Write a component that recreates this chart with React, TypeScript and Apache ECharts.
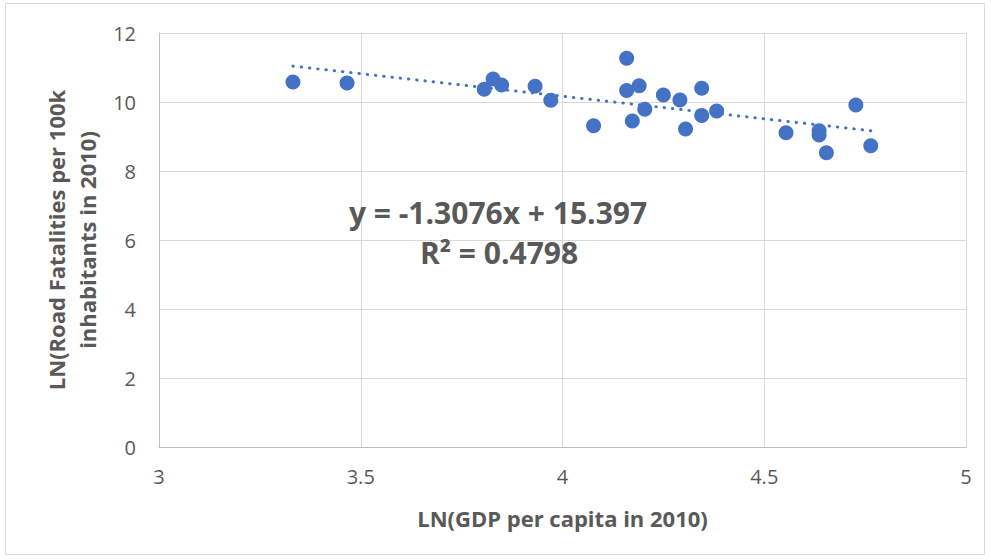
import React, { useEffect, useRef } from "react";
import * as echarts from "echarts";

// LN(GDP per capita in 2010) for each country
const gdpLn: number[] = [
  3.332, 3.466, 3.806, 3.828, 3.849, 3.932, 3.971, 4.077, 4.159, 4.159,
  4.19, 4.173, 4.204, 4.25, 4.291, 4.345, 4.345, 4.305, 4.382, 4.554,
  4.636, 4.636, 4.654, 4.727, 4.764,
];
// LN(Road fatalities per 100k inhabitants in 2010)
const fatalitiesLn: number[] = [
  10.58, 10.55, 10.37, 10.67, 10.49, 10.46, 10.05, 9.31, 11.27, 10.33,
  10.47, 9.45, 9.79, 10.2, 10.06, 10.4, 9.61, 9.22, 9.74, 9.11,
  9.17, 9.04, 8.53, 9.91, 8.73,
];

// Linear trend line coefficients
const slope = -1.3076;
const intercept = 15.397;
const rSquared = 0.4798;

const xTicks = [3, 3.5, 4, 4.5, 5];
const yTicks = [0, 2, 4, 6, 8, 10, 12];

const FONT = "'Open Sans', 'Noto Sans', sans-serif";
const GREY = "#595959";
const BLUE = "#4472C4";

export default function App() {
  const ref = useRef<HTMLDivElement>(null);

  useEffect(() => {
    if (!ref.current) return;
    const chart = echarts.init(ref.current, undefined, { renderer: "svg" });

    const points = gdpLn.map((x, i) => [x, fatalitiesLn[i]]);
    const xMin = Math.min(...gdpLn);
    const xMax = Math.max(...gdpLn);
    const trend = [
      [xMin, slope * xMin + intercept],
      [xMax, slope * xMax + intercept],
    ];

    chart.setOption({
      animation: false,
      backgroundColor: "#ffffff",
      grid: { left: 159, right: 25, top: 33, bottom: 113 },
      xAxis: {
        type: "value",
        min: xTicks[0],
        max: xTicks[xTicks.length - 1],
        interval: 0.5,
        name: "LN(GDP per capita in 2010)",
        nameLocation: "middle",
        nameGap: 60,
        nameTextStyle: { color: GREY, fontSize: 22, fontWeight: "bold", fontFamily: FONT },
        axisLine: { show: true, lineStyle: { color: "#bfbfbf", width: 1 } },
        axisTick: { show: false },
        axisLabel: { color: GREY, fontSize: 20, fontFamily: FONT, margin: 19 },
        splitLine: { show: true, lineStyle: { color: "#d9d9d9", width: 1 } },
      },
      yAxis: {
        type: "value",
        min: yTicks[0],
        max: yTicks[yTicks.length - 1],
        interval: 2,
        name: "LN(Road Fatalities per 100k\ninhabitants in 2010)",
        nameLocation: "middle",
        nameGap: 54,
        nameRotate: 90,
        nameTextStyle: {
          color: GREY,
          fontSize: 22,
          fontWeight: "bold",
          fontFamily: FONT,
          lineHeight: 31,
          align: "center",
        },
        axisLine: { show: true, lineStyle: { color: "#bfbfbf", width: 1 } },
        axisTick: { show: false },
        axisLabel: { color: GREY, fontSize: 20, fontFamily: FONT, margin: 23 },
        splitLine: { show: true, lineStyle: { color: "#d9d9d9", width: 1 } },
      },
      series: [
        {
          type: "line",
          data: trend,
          showSymbol: false,
          symbol: "none",
          lineStyle: { color: BLUE, width: 3, type: [0.4, 7.9], cap: "round" },
          z: 3,
        },
        {
          type: "scatter",
          data: points,
          symbol: "circle",
          symbolSize: 15,
          itemStyle: { color: BLUE, opacity: 1 },
          z: 4,
        },
      ],
      graphic: [
        {
          type: "rect",
          shape: { x: 5.5, y: 3.5, width: 979, height: 551 },
          style: { fill: "none", stroke: "#d9d9d9", lineWidth: 1 },
          silent: true,
        },
        {
          type: "text",
          x: 498,
          y: 212,
          style: {
            text: `y = ${slope}x + ${intercept}`,
            fill: GREY,
            font: `bold 30px ${FONT}`,
            align: "center",
            verticalAlign: "middle",
          },
          z: 10,
        },
        {
          type: "text",
          x: 499,
          y: 252,
          style: {
            text: `R² = ${rSquared}`,
            fill: GREY,
            font: `bold 30px ${FONT}`,
            align: "center",
            verticalAlign: "middle",
          },
          z: 10,
        },
      ],
    });

    return () => chart.dispose();
  }, []);

  return (
    <div
      ref={ref}
      style={{ position: "fixed", left: 0, top: 0, width: 991, height: 560 }}
    />
  );
}
